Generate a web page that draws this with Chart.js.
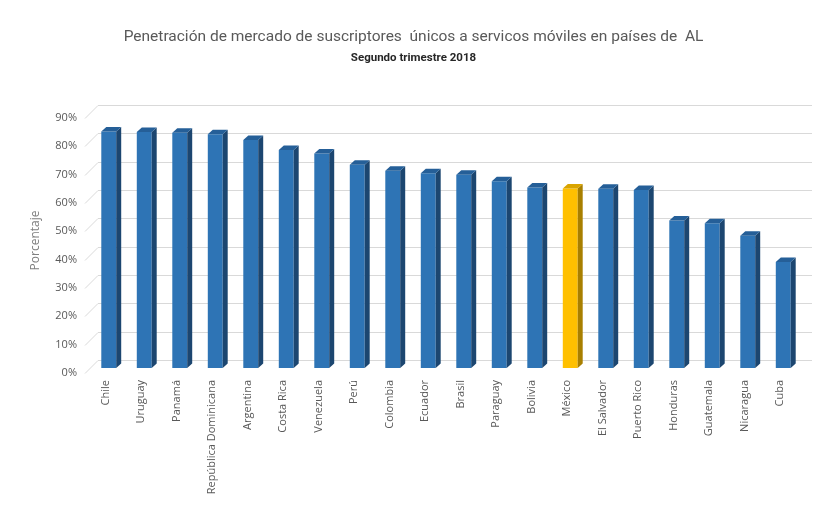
<!DOCTYPE html>
<html lang="es">
<head>
<meta charset="utf-8">
<title>Penetración de mercado de suscriptores únicos</title>
<script src="https://cdn.jsdelivr.net/npm/chart.js@4.4.1/dist/chart.umd.min.js"></script>
<style>
  html, body { margin: 0; padding: 0; background: #ffffff; }
  #wrap { width: 833px; height: 509px; position: relative; }
</style>
</head>
<body>
<div id="wrap"><canvas id="chart" width="833" height="509"></canvas></div>
<script>
// Países (orden descendente de penetración)
const countries = [
  "Chile", "Uruguay", "Panamá", "República Dominicana", "Argentina",
  "Costa Rica", "Venezuela", "Perú", "Colombia", "Ecuador",
  "Brasil", "Paraguay", "Bolivia", "México", "El Salvador",
  "Puerto Rico", "Honduras", "Guatemala", "Nicaragua", "Cuba"
];

// Penetración de suscriptores únicos, 2T 2018 (fracción)
const penetration = [
  0.834, 0.833, 0.830, 0.825, 0.804,
  0.769, 0.757, 0.717, 0.696, 0.687,
  0.682, 0.659, 0.637, 0.633, 0.632,
  0.628, 0.520, 0.511, 0.467, 0.374
];

// Valores del eje vertical
const yTicks = [0, 0.1, 0.2, 0.3, 0.4, 0.5, 0.6, 0.7, 0.8, 0.9];

const highlight = "México";

const BLUE = { front: "#2e74b5", top: "#255f98", side: "#1c4670" };
const GOLD = { front: "#ffc000", top: "#d9a400", side: "#a87f00" };
const paletteFor = (name) => (name === highlight ? GOLD : BLUE);

// Profundidad de las columnas y de la pared del fondo
const BAR_DX = 5, BAR_DY = 4.5;
const WALL_DX = 13, WALL_DY = 13.5;
const LABEL_SHIFT = 5;

// Pared del fondo con líneas de división en perspectiva
const wallGrid = {
  id: "wallGrid",
  beforeDatasetsDraw(chart) {
    const { ctx, chartArea, scales } = chart;
    const y = scales.y;
    const xFront = chartArea.left - 6;
    const xBack = xFront + WALL_DX;
    const xEnd = chartArea.right + 11;
    ctx.save();
    ctx.strokeStyle = "#d9d9d9";
    ctx.lineWidth = 1;
    yTicks.forEach((v) => {
      const yf = Math.round(y.getPixelForValue(v) + LABEL_SHIFT) + 0.5;
      const yb = Math.round(yf - WALL_DY) + 0.5;
      ctx.beginPath();
      ctx.moveTo(xFront, yf);
      ctx.lineTo(xBack, yb);
      ctx.lineTo(xEnd, yb);
      ctx.stroke();
    });
    ctx.restore();
  }
};

// Caras superior y lateral de cada columna
const columns3d = {
  id: "columns3d",
  afterDatasetsDraw(chart) {
    const { ctx } = chart;
    const meta = chart.getDatasetMeta(0);
    ctx.save();
    meta.data.forEach((bar, i) => {
      const p = paletteFor(countries[i]);
      const { x, y, base, width } = bar.getProps(["x", "y", "base", "width"], true);
      const l = x - width / 2, r = x + width / 2;
      // lateral derecha
      ctx.fillStyle = p.side;
      ctx.beginPath();
      ctx.moveTo(r, y);
      ctx.lineTo(r + BAR_DX, y - BAR_DY);
      ctx.lineTo(r + BAR_DX, base - BAR_DY);
      ctx.lineTo(r, base);
      ctx.closePath();
      ctx.fill();
      // cara superior
      ctx.fillStyle = p.top;
      ctx.beginPath();
      ctx.moveTo(l, y);
      ctx.lineTo(l + BAR_DX, y - BAR_DY);
      ctx.lineTo(r + BAR_DX, y - BAR_DY);
      ctx.lineTo(r, y);
      ctx.closePath();
      ctx.fill();
    });
    ctx.restore();
  }
};

const labelFont = { family: "'Open Sans', 'DejaVu Sans', sans-serif", size: 11 };

new Chart(document.getElementById("chart"), {
  type: "bar",
  data: {
    labels: countries,
    datasets: [{
      data: penetration,
      backgroundColor: countries.map((c) => paletteFor(c).front),
      borderWidth: 0,
      barPercentage: 0.42,
      categoryPercentage: 1.0
    }]
  },
  options: {
    responsive: false,
    animation: false,
    devicePixelRatio: 1,
    layout: { padding: { left: 0, right: 6, top: 0, bottom: 0 } },
    plugins: {
      legend: { display: false },
      tooltip: { enabled: false },
      title: {
        display: true,
        text: "Penetración de mercado de suscriptores  únicos a servicos móviles en países de  AL",
        color: "#595959",
        font: { family: "Roboto, 'Open Sans', sans-serif", size: 15.5, weight: "normal" },
        padding: { top: 28, bottom: 2.5 }
      },
      subtitle: {
        display: true,
        text: "Segundo trimestre 2018",
        color: "#262626",
        font: { family: "Roboto, 'Open Sans', sans-serif", size: 11.5, weight: "bold" },
        padding: { top: 2, bottom: 48 }
      }
    },
    scales: {
      x: {
        grid: { display: false, drawTicks: false },
        border: { display: false },
        ticks: {
          color: "#595959",
          font: labelFont,
          minRotation: 90,
          maxRotation: 90,
          autoSkip: false,
          padding: 12,
          labelOffset: -3
        },
        afterFit(scale) { scale.height = 141; }
      },
      y: {
        min: 0,
        max: 0.9,
        grid: { display: false, drawTicks: false },
        border: { display: false },
        afterBuildTicks(scale) { scale.ticks = yTicks.map((v) => ({ value: v })); },
        ticks: {
          color: "#595959",
          font: labelFont,
          padding: 14,
          labelOffset: LABEL_SHIFT,
          callback: (v) => Math.round(v * 100) + "%"
        },
        title: {
          display: true,
          text: "Porcentaje",
          color: "#7f7f7f",
          font: { family: "'Open Sans', 'DejaVu Sans', sans-serif", size: 12 },
          padding: { top: 28, bottom: 0 }
        },
        afterFit(scale) { scale.width = 91; }
      },
      // margen derecho reservado para la pared en perspectiva
      side: {
        type: "linear",
        position: "right",
        display: true,
        grid: { display: false, drawTicks: false },
        border: { display: false },
        ticks: { display: false },
        afterFit(scale) { scale.width = 26; }
      }
    }
  },
  plugins: [wallGrid, columns3d]
});
</script>
</body>
</html>
